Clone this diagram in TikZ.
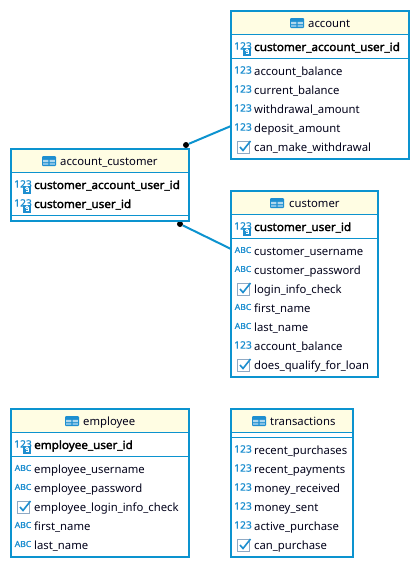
\documentclass[tikz,border=0pt]{standalone}
\usepackage{fontspec}
\setmainfont{Noto Sans}
\newfontfamily\keyfont{Noto Sans}[FakeBold=2.2,FakeStretch=1.035]
\newfontfamily\iconfont{Noto Sans}[FakeBold=1.6,FakeStretch=1.05]
\newfontfamily\numfont{Noto Sans}[FakeBold=0.4]
\definecolor{linkblue}{HTML}{0C93CF}
\definecolor{headfill}{HTML}{FFFDE3}
\definecolor{iconblue}{HTML}{1E8FD0}
\definecolor{checkgrey}{HTML}{8FA9C4}
\tikzset{
  tablebox/.style={draw=linkblue,line width=2pt,fill=white,anchor=north west,inner sep=0pt,outer sep=0pt},
  headbox/.style={fill=headfill,anchor=north west,inner sep=0pt,outer sep=0pt,minimum height=22pt},
  sepline/.style={draw=linkblue,line width=1pt},
  link/.style={draw=linkblue,line width=2pt},
  enddot/.style={circle,fill=black,inner sep=0pt,minimum size=6pt},
  coltext/.style={anchor=west,inner sep=0pt,yshift=-1pt,text height=9pt,text depth=3pt,font=\fontsize{11.3}{13}\selectfont,text=black!90!blue},
  keytext/.style={coltext,font=\keyfont\fontsize{11.3}{13}\selectfont,text=black},
  headtext/.style={coltext},
  pics/numicon/.style={code={\node[inner sep=0pt,text=iconblue,font=\numfont\fontsize{10.3}{12}\selectfont] at (0,0) {123};}},
  pics/abcicon/.style={code={\node[inner sep=0pt,text=iconblue,font=\iconfont\fontsize{8.2}{10}\selectfont] at (0,0) {ABC};}},
  pics/keyicon/.style={code={
    \node[inner sep=0pt,text=iconblue,font=\numfont\fontsize{10.3}{12}\selectfont] at (0,0) {123};
    \fill[iconblue] (0,2) rectangle (8,9.5);
    \draw[white,line width=.8pt] (4,4.4) circle (1.4);
    \draw[white,line width=.8pt] (5.4,4.4) -- (5.4,7.4) -- (3,7.4);
  }},
  pics/checkicon/.style={code={
    \draw[checkgrey,line width=1pt] (-6,-6) rectangle (6,6.5);
    \draw[iconblue,line width=1.6pt] (-3,0) -- (0,3.5) -- (7.5,-6);
  }},
  pics/tableicon/.style={code={
    \fill[iconblue,rounded corners=1pt] (-7,-5) rectangle (7,5);
    \fill[white!65!iconblue] (-5.8,-1.2) rectangle (-.6,1) (.6,-1.2) rectangle (5.8,1);
    \fill[white!45!iconblue] (-5.8,1.9) rectangle (-.6,3.9) (.6,1.9) rectangle (5.8,3.9);
  }},
}
\begin{document}
\begin{tikzpicture}[x=1pt,y=-1pt]
\useasboundingbox (0,0) rectangle (420,568);
% links
\node [enddot] (dotaccount) at (186,145) {};
\node [enddot] (dotcustomer) at (180,224) {};
\coordinate (joinaccount) at (231,126);
\coordinate (joincustomer) at (231,249);
\draw [link] (dotaccount) -- (joinaccount);
\draw [link] (dotcustomer) -- (joincustomer);
% account
\node [tablebox,minimum width=178pt,minimum height=148pt] (account) at (231,11) {};
\node [headbox,minimum width=176pt] (accounthead) at (232,12) {};
\draw [sepline] (231,34.5) -- (409,34.5) (231,58.5) -- (409,58.5);
\pic at (297,23) {tableicon};
\node [headtext] (accountname) at (308,23) {account};
\pic at (243,46) {keyicon};
\node [keytext] (accountkey) at (254,47) {customer\_account\_user\_id};
\foreach \y/\name in {71/account\_balance,90/current\_balance,109/withdrawal\_amount,128/deposit\_amount} {
  \pic at (243,\y-1) {numicon};
  \node [coltext] (account\y) at (254,\y) {\name};
}
\pic at (243,147) {checkicon};
\node [coltext] (account147) at (254,147) {can\_make\_withdrawal};
% account_customer
\node [tablebox,minimum width=178pt,minimum height=72pt] (acctcust) at (11,149) {};
\node [headbox,minimum width=176pt] (acctcusthead) at (12,150) {};
\draw [sepline] (11,172.5) -- (189,172.5) (11,215.5) -- (189,215.5);
\pic at (49,161) {tableicon};
\node [headtext] (acctcustname) at (60,161) {account\_customer};
\pic at (23,184) {keyicon};
\node [keytext] (acctcust185) at (34,185) {customer\_account\_user\_id};
\pic at (23,203) {keyicon};
\node [keytext] (acctcust204) at (34,204) {customer\_user\_id};
% customer
\node [tablebox,minimum width=146.5pt,minimum height=185.5pt] (customer) at (231,191) {};
\node [headbox,minimum width=144.5pt] (customerhead) at (232,192) {};
\draw [sepline] (231,214.5) -- (377.5,214.5) (231,238.5) -- (377.5,238.5);
\pic at (277,203) {tableicon};
\node [headtext] (customername) at (289,203) {customer};
\pic at (243,226) {keyicon};
\node [keytext] (customerkey) at (254,227) {customer\_user\_id};
\foreach \y/\name in {251/customer\_username,270/customer\_password,308/first\_name,327/last\_name} {
  \pic at (243,\y-1) {abcicon};
  \node [coltext] (customer\y) at (254,\y) {\name};
}
\pic at (243,345) {numicon};
\node [coltext] (customer346) at (254,346) {account\_balance};
\foreach \y/\name in {289/login\_info\_check,365/does\_qualify\_for\_loan} {
  \pic at (243,\y) {checkicon};
  \node [coltext] (customer\y) at (254,\y) {\name};
}
% employee
\node [tablebox,minimum width=178pt,minimum height=148pt] (employee) at (11,409) {};
\node [headbox,minimum width=176pt] (employeehead) at (12,410) {};
\draw [sepline] (11,432.5) -- (189,432.5) (11,456.5) -- (189,456.5);
\pic at (72,421) {tableicon};
\node [headtext] (employeename) at (83,421) {employee};
\pic at (23,444) {keyicon};
\node [keytext] (employeekey) at (34,445) {employee\_user\_id};
\foreach \y/\name in {469/employee\_username,488/employee\_password,526/first\_name,545/last\_name} {
  \pic at (23,\y-1) {abcicon};
  \node [coltext] (employee\y) at (34,\y) {\name};
}
\pic at (23,507) {checkicon};
\node [coltext] (employee507) at (34,507) {employee\_login\_info\_check};
% transactions
\node [tablebox,minimum width=122pt,minimum height=148pt] (transactions) at (231,409) {};
\node [headbox,minimum width=120pt] (transactionshead) at (232,410) {};
\draw [sepline] (231,432.5) -- (353,432.5) (231,437.5) -- (353,437.5);
\pic at (259,421) {tableicon};
\node [headtext] (transactionsname) at (270,421) {transactions};
\foreach \y/\name in {450/recent\_purchases,469/recent\_payments,488/money\_received,507/money\_sent,526/active\_purchase} {
  \pic at (243,\y-1) {numicon};
  \node [coltext] (transactions\y) at (254,\y) {\name};
}
\pic at (243,545) {checkicon};
\node [coltext] (transactions545) at (254,545) {can\_purchase};
\end{tikzpicture}
\end{document}
